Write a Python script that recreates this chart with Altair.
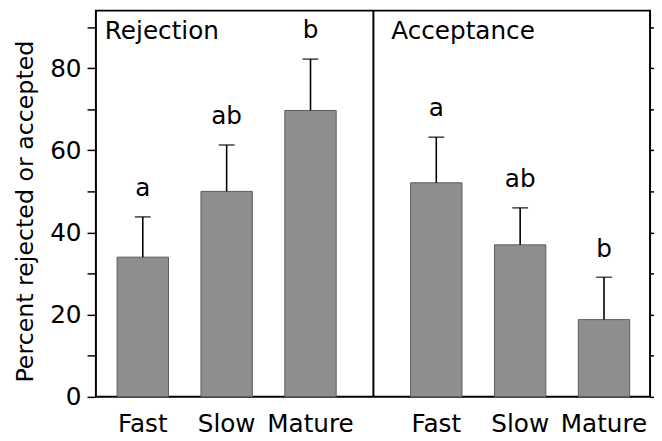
import altair as alt
import pandas as pd

# ---- data ----
panels = ["Rejection", "Acceptance"]
groups = ["Fast", "Slow", "Mature", "Fast", "Slow", "Mature"]
panel_of = ["Rejection"] * 3 + ["Acceptance"] * 3
xpos = [1, 2, 3, 4.5, 5.5, 6.5]
means = [34.0, 50.0, 69.7, 52.1, 37.0, 18.8]
upper = [43.8, 61.3, 82.2, 63.2, 46.0, 29.1]
letters = ["a", "ab", "b", "a", "ab", "b"]
y_ticks = [0, 10, 20, 30, 40, 50, 60, 70, 80, 90]
x_domain = [0.5, 6.99]
y_domain = [0, 94]
divider = [3.75]

FONT = "DejaVu Sans"
FS = 25
W, H = 561, 391

df = pd.DataFrame({"x": xpos, "mean": means, "upper": upper,
                   "letter": letters, "group": groups, "panel": panel_of})
div_df = pd.DataFrame({"x": divider})
t1_df = pd.DataFrame({"panel": [panels[0]], "x": [x_domain[0]]})
t2_df = pd.DataFrame({"panel": [panels[1]], "x": [divider[0]]})

xscale = alt.Scale(domain=x_domain, nice=False, zero=False)
yscale = alt.Scale(domain=y_domain, nice=False, zero=False)

y_left = alt.Axis(values=y_ticks, labelExpr="datum.value % 20 == 0 ? datum.label : ''",
                  orient="left", domain=False, grid=False, tickSize=9,
                  tickWidth=1.5, tickColor="black", labelPadding=6,
                  labelFont=FONT, labelFontSize=FS, labelColor="black",
                  title="Percent rejected or accepted", titleFont=FONT,
                  titleFontSize=24, titleFontWeight="normal", titleColor="black",
                  titlePadding=12, titleY=203)
y_right = alt.Axis(values=y_ticks, orient="right", labels=False, domain=False,
                   grid=False, tickSize=6, tickWidth=1.5, tickColor="black",
                   title="")

base = alt.Chart(df)

bars = base.mark_bar(size=52, color="#8e8e8e", stroke="#5a5a5a",
                     strokeWidth=1).encode(
    x=alt.X("x:Q", scale=xscale, axis=None),
    y=alt.Y("mean:Q", scale=yscale, axis=y_left),
)

right_axis = base.mark_point(opacity=0).encode(
    x=alt.X("x:Q", scale=xscale, axis=None),
    y=alt.Y("mean:Q", scale=yscale, axis=y_right),
)

err = base.mark_rule(color="black", strokeWidth=1.6).encode(
    x=alt.X("x:Q", scale=xscale, axis=None),
    y=alt.Y("mean:Q", scale=yscale, axis=None),
    y2="upper:Q",
)

caps = base.mark_tick(color="black", size=16, thickness=1.6,
                      orient="horizontal").encode(
    x=alt.X("x:Q", scale=xscale, axis=None),
    y=alt.Y("upper:Q", scale=yscale, axis=None),
)

lets = base.mark_text(font=FONT, fontSize=FS, color="black", dy=-21,
                      baseline="alphabetic", align="center").encode(
    x=alt.X("x:Q", scale=xscale, axis=None),
    y=alt.Y("upper:Q", scale=yscale, axis=None),
    text="letter:N",
)

xlabels = base.mark_text(font=FONT, fontSize=FS, color="black",
                         baseline="alphabetic", align="center").encode(
    x=alt.X("x:Q", scale=xscale, axis=None),
    y=alt.value(H + 36),
    text="group:N",
)

div_rule = alt.Chart(div_df).mark_rule(color="black", strokeWidth=2).encode(
    x=alt.X("x:Q", scale=xscale, axis=None),
)

ptitle1 = alt.Chart(t1_df).mark_text(font=FONT, fontSize=FS, color="black",
                                     align="left", baseline="alphabetic",
                                     dx=4).encode(
    x=alt.X("x:Q", scale=xscale, axis=None),
    y=alt.value(29),
    text="panel:N",
)
ptitle2 = alt.Chart(t2_df).mark_text(font=FONT, fontSize=FS, color="black",
                                     align="left", baseline="alphabetic",
                                     dx=18).encode(
    x=alt.X("x:Q", scale=xscale, axis=None),
    y=alt.value(29),
    text="panel:N",
)

chart = alt.layer(bars, right_axis, err, caps, lets, xlabels, div_rule,
                  ptitle1, ptitle2).resolve_axis(
    y="independent"
).properties(
    width=W, height=H,
    autosize=alt.AutoSizeParams(type="none"),
    padding={"left": 89, "top": 0, "right": 4, "bottom": 40},
    background="white",
).configure_view(stroke="black", strokeWidth=2)

chart.save("out.html", embed_options={"renderer": "svg", "actions": False})
